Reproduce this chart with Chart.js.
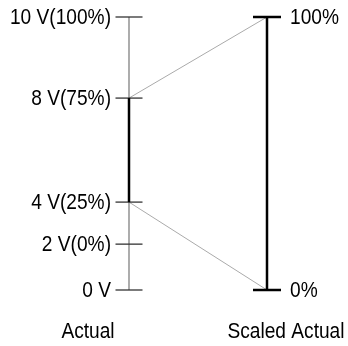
<!DOCTYPE html>
<html>
<head>
<meta charset="utf-8">
<script src="https://cdn.jsdelivr.net/npm/chart.js@4.4.1/dist/chart.umd.min.js"></script>
<style>
  html, body { margin: 0; padding: 0; background: #fff; }
  #wrap { width: 348px; height: 346px; }
</style>
</head>
<body>
<div id="wrap"><canvas id="myChart"></canvas></div>
<script>
// levels on the "Actual" axis, position (0 = bottom, 100 = top)
var actualLabels = ['0 V', '2 V(0%)', '4 V(25%)', '8 V(75%)', '10 V(100%)']
var actualPos = [0, 16.8, 32.2, 70.3, 100]
// the scaled axis
var scaledLabels = ['0%', '100%']
var scaledPos = [0, 100]
// which actual levels map onto 0% and 100%
var spanFrom = 2
var spanTo = 3
var axisNames = ['Actual', 'Scaled Actual']

var FONT = '22px "Liberation Sans", Arial, sans-serif'
var SQUEEZE = 0.87   // the original type is a condensed face

var actualPts = actualPos.map(function(p){ return {x: 0, y: p} })
var scaledPts = scaledPos.map(function(p){ return {x: 1, y: p} })

function label(ctx, t, x, y, align){
    ctx.save()
    ctx.translate(x, y)
    ctx.scale(SQUEEZE, 1)
    ctx.textAlign = align
    ctx.fillText(t, 0, 0)
    ctx.restore()
}

var labelPlugin = {
    id: 'levelLabels',
    afterDraw: function(chart){
        var ctx = chart.ctx
        var xs = chart.scales.x, ys = chart.scales.y
        ctx.save()
        ctx.font = FONT
        ctx.fillStyle = '#000'
        ctx.textBaseline = 'middle'
        actualLabels.forEach(function(t, i){
            label(ctx, t, xs.getPixelForValue(0) - 18, ys.getPixelForValue(actualPos[i]) + 1, 'right')
        })
        scaledLabels.forEach(function(t, i){
            label(ctx, t, xs.getPixelForValue(1) + 23, ys.getPixelForValue(scaledPos[i]) + 1, 'left')
        })
        var yb = ys.getPixelForValue(0) + 42
        label(ctx, axisNames[0], xs.getPixelForValue(0) - 41, yb, 'center')
        label(ctx, axisNames[1], xs.getPixelForValue(1) + 19, yb, 'center')
        ctx.restore()
    }
}

var myChart = document.getElementById('myChart').getContext('2d')
var chart = new Chart(myChart, {
    type: 'scatter',
    data: {
        datasets: [
            {
                // scaled axis with its end ticks
                data: scaledPts,
                showLine: true,
                borderColor: '#000',
                borderWidth: 2.5,
                pointStyle: 'line',
                pointRadius: 14,
                pointBorderWidth: 2.5,
                pointBorderColor: '#000',
                clip: false
            },
            {
                // part of the actual range that is used
                data: [actualPts[spanFrom], actualPts[spanTo]],
                showLine: true,
                borderColor: '#000',
                borderWidth: 2.5,
                pointRadius: 0,
                clip: false
            },
            {
                // actual axis with ticks
                data: actualPts,
                showLine: true,
                borderColor: '#808080',
                borderWidth: 1.3,
                pointStyle: 'line',
                pointRadius: 13.5,
                pointBorderWidth: 1.3,
                pointBorderColor: '#333',
                clip: false
            },
            {
                data: [actualPts[spanTo], scaledPts[1]],
                showLine: true,
                borderColor: '#aaaaaa',
                borderWidth: 1,
                pointRadius: 0,
                clip: false
            },
            {
                data: [actualPts[spanFrom], scaledPts[0]],
                showLine: true,
                borderColor: '#aaaaaa',
                borderWidth: 1,
                pointRadius: 0,
                clip: false
            }
        ]
    },
    options: {
        responsive: true,
        maintainAspectRatio: false,
        animation: false,
        events: [],
        layout: { padding: { left: 129, right: 81, top: 17, bottom: 56 } },
        scales: {
            x: { type: 'linear', min: 0, max: 1, display: false },
            y: { type: 'linear', min: 0, max: 100, display: false }
        },
        plugins: {
            legend: { display: false },
            tooltip: { enabled: false }
        }
    },
    plugins: [labelPlugin]
})
</script>
</body>
</html>
